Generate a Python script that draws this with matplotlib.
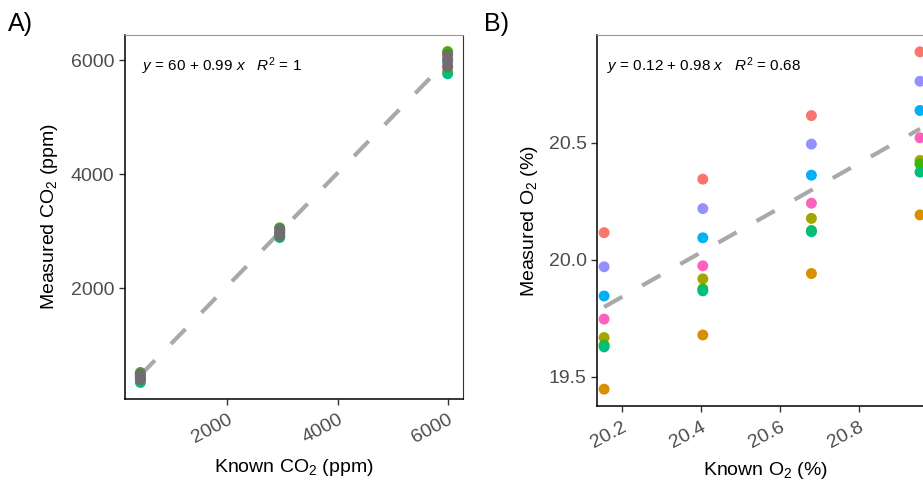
import numpy as np
import matplotlib
matplotlib.use('Agg')
import matplotlib.pyplot as plt

plt.rcParams['font.family'] = ['Liberation Sans', 'DejaVu Sans']
plt.rcParams['mathtext.fontset'] = 'custom'
plt.rcParams['mathtext.rm'] = 'Liberation Sans'
plt.rcParams['mathtext.it'] = 'Liberation Sans:italic'

# colours of the sensors (ggplot hue palette)
colors = ['#F8766D', '#D89000', '#A3A500', '#39B600', '#00BF7D',
          '#00B0F6', '#9590FF', '#FF62BC']
na_color = '#6E6E6E'

# ---- panel A: CO2 ----
known_co2 = [420, 2950, 6000]
co2 = [
    [470, 3000, 6050],   # red
    [380, 2910, 5800],   # orange
    [510, 3040, 6120],   # olive
    [525, 3060, 6150],   # green
    [350, 2890, 5760],   # teal
    [450, 2980, 5950],   # blue
    [480, 3010, 6000],   # purple
    [500, 3020, 5900],   # pink
]
co2_na = [[500, 3040, 6100], [440, 2960, 6000], [400, 2920, 5880]]
fit_co2 = (60, 0.99)

# ---- panel B: O2 ----
known_o2 = [20.155, 20.405, 20.68, 20.955]
o2 = [
    [20.116, 20.345, 20.617, 20.890],   # red
    [19.446, 19.678, 19.941, 20.192],   # orange
    [19.667, 19.918, 20.177, 20.425],   # olive
    [19.635, 19.875, 20.125, 20.410],   # green
    [19.627, 19.867, 20.120, 20.375],   # teal
    [19.845, 20.094, 20.362, 20.639],   # blue
    [19.970, 20.219, 20.495, 20.764],   # purple
    [19.746, 19.974, 20.242, 20.522],   # pink
]
fit_o2 = (0.59, 0.953)

fig = plt.figure(figsize=(9.23, 4.8), dpi=100)
axA = fig.add_axes([125/923, 81/480, 338/923, 364/480])
axB = fig.add_axes([597/923, 74/480, 338/923, 371/480])


def style(ax):
    ax.spines['left'].set_color('black')
    ax.spines['bottom'].set_color('black')
    ax.spines['left'].set_linewidth(1.1)
    ax.spines['bottom'].set_linewidth(1.1)
    ax.spines['top'].set_color('#9A9A9A')
    ax.spines['right'].set_color('#333333')
    ax.tick_params(direction='out', length=4, width=1, color='#333333',
                   labelcolor='#4D4D4D', labelsize=14)
    ax.tick_params(axis='x', pad=5)
    for lab in ax.get_xticklabels():
        lab.set_rotation(28)
        lab.set_ha('right')
        lab.set_rotation_mode('anchor')


ms = 62
# panel A
x = np.array(known_co2)
xx = np.linspace(x.min(), x.max(), 50)
axA.plot(xx, fit_co2[0] + fit_co2[1] * xx, color='#A9A9A9', lw=3,
         linestyle=(0, (5, 5.5)), zorder=1)
for c, vals in zip(colors, co2):
    axA.scatter(known_co2, vals, s=ms, color=c, edgecolors='none', zorder=2)
for vals in co2_na:
    axA.scatter(known_co2, vals, s=ms, color=na_color, edgecolors='none', zorder=3)
axA.set_xlim(141, 6279)
axA.set_ylim(60, 6440)
axA.set_xticks([2000, 4000, 6000])
axA.set_yticks([2000, 4000, 6000])
style(axA)
axA.set_xlabel('Known CO$_2$ (ppm)', fontsize=14, labelpad=7)
axA.set_ylabel('Measured CO$_2$ (ppm)', fontsize=14, labelpad=8)
axA.text(0.05, 0.915, r'$y$ = 60 + 0.99 $x$   $R^2$ = 1', transform=axA.transAxes,
         fontsize=11, va='center')

# panel B
x = np.array(known_o2)
xx = np.linspace(x.min(), x.max(), 50)
axB.plot(xx, fit_o2[0] + fit_o2[1] * xx, color='#A9A9A9', lw=3,
         linestyle=(0, (5, 5.5)), zorder=1)
for c, vals in zip(colors, o2):
    axB.scatter(known_o2, vals, s=ms, color=c, edgecolors='none', zorder=2)
axB.set_xlim(20.137, 20.993)
axB.set_ylim(19.374, 20.962)
axB.set_xticks([20.2, 20.4, 20.6, 20.8])
axB.set_xticklabels(['20.2', '20.4', '20.6', '20.8'])
axB.set_yticks([19.5, 20.0, 20.5])
axB.set_yticklabels(['19.5', '20.0', '20.5'])
style(axB)
axB.set_xlabel('Known O$_2$ (%)', fontsize=14, labelpad=6)
axB.set_ylabel('Measured O$_2$ (%)', fontsize=14, labelpad=6)
axB.text(0.03, 0.915, r'$y$ = 0.12 + 0.98 $x$   $R^2$ = 0.68', transform=axB.transAxes,
         fontsize=11, va='center')

fig.text(8/923, 1 - 24/480, 'A)', fontsize=18, va='center')
fig.text(484/923, 1 - 24/480, 'B)', fontsize=18, va='center')

fig.savefig('out.png', dpi=100)
